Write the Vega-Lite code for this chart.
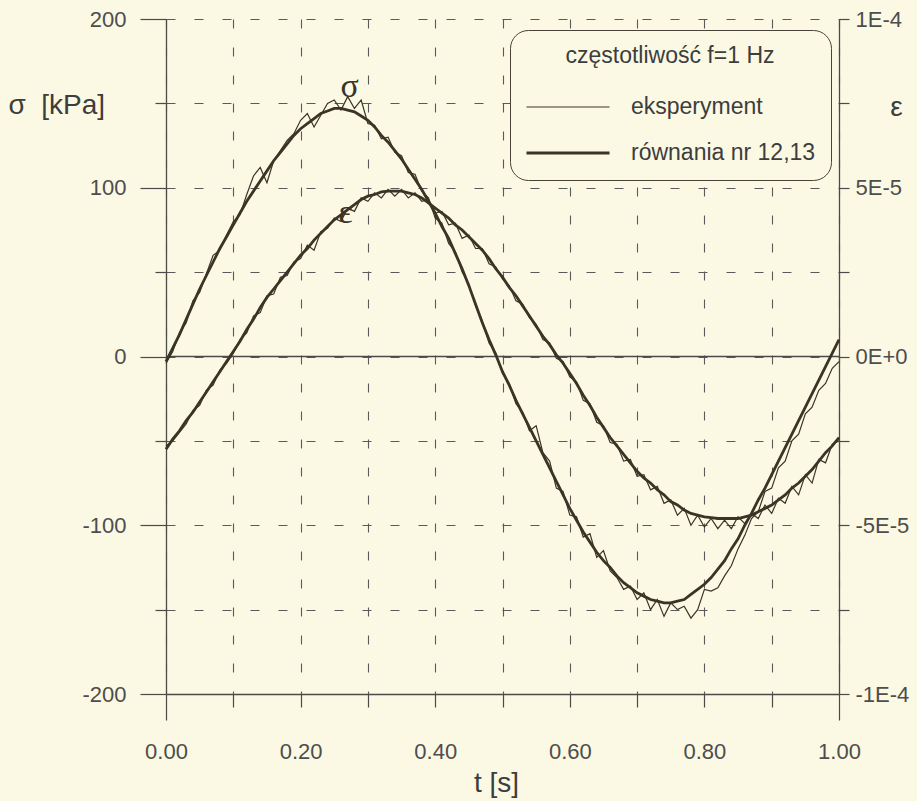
{
  "$schema": "https://vega.github.io/schema/vega-lite/v6.json",
  "width": 673,
  "height": 675,
  "autosize": {"type": "none"},
  "padding": {"left": 166, "top": 19, "right": 78, "bottom": 107},
  "background": "#fbf9e4",
  "config": {
    "view": {"stroke": null},
    "font": "Liberation Sans",
    "axis": {
      "labelFont": "Liberation Sans",
      "labelFontSize": 22,
      "labelColor": "#4d4d4d",
      "labelFlush": false,
      "labelOverlap": false,
      "titleFont": "Liberation Sans",
      "titleFontWeight": "normal",
      "titleColor": "#3d3d3d",
      "titleFontSize": 28,
      "domainColor": "#4a4a4a",
      "domainWidth": 1.3,
      "tickColor": "#4a4a4a",
      "tickWidth": 1.2,
      "gridColor": "#5a5a5a",
      "gridDash": [9, 19],
      "gridWidth": 1.1,
      "gridOpacity": 1
    }
  },
  "datasets": {
    "zero": [{"v": 0}],
    "ann": [
      {"t": 0.273, "v": 160, "label": "σ"},
      {"t": 0.267, "v": 85, "label": "ε"}
    ],
    "sigma": [
      {"t":0.00,"fit":-3,"exp":-4},{"t":0.01,"fit":5,"exp":3},{"t":0.02,"fit":13,"exp":14},{"t":0.03,"fit":22,"exp":20},
      {"t":0.04,"fit":31,"exp":33},{"t":0.05,"fit":40,"exp":38},{"t":0.06,"fit":48,"exp":49},{"t":0.07,"fit":56,"exp":60},
      {"t":0.08,"fit":64,"exp":63},{"t":0.09,"fit":71,"exp":72},{"t":0.10,"fit":78,"exp":80},{"t":0.11,"fit":85,"exp":84},
      {"t":0.12,"fit":92,"exp":96},{"t":0.13,"fit":98,"exp":107},{"t":0.14,"fit":104,"exp":112},{"t":0.15,"fit":110,"exp":103},
      {"t":0.16,"fit":116,"exp":116},{"t":0.17,"fit":121,"exp":122},{"t":0.18,"fit":126,"exp":128},{"t":0.19,"fit":131,"exp":132},
      {"t":0.20,"fit":135,"exp":140},{"t":0.21,"fit":138,"exp":144},{"t":0.22,"fit":141,"exp":136},{"t":0.23,"fit":144,"exp":143},
      {"t":0.24,"fit":145.5,"exp":150},{"t":0.25,"fit":147,"exp":152},{"t":0.26,"fit":147,"exp":146},{"t":0.27,"fit":146,"exp":154},
      {"t":0.28,"fit":145,"exp":147},{"t":0.29,"fit":142.5,"exp":152},{"t":0.30,"fit":140,"exp":138},{"t":0.31,"fit":136,"exp":137},
      {"t":0.32,"fit":131,"exp":129},{"t":0.33,"fit":127,"exp":130},{"t":0.34,"fit":122,"exp":121},{"t":0.35,"fit":117,"exp":119},
      {"t":0.36,"fit":111,"exp":109},{"t":0.37,"fit":105,"exp":108},{"t":0.38,"fit":99,"exp":98},{"t":0.39,"fit":92,"exp":94},
      {"t":0.40,"fit":85,"exp":82},{"t":0.41,"fit":77,"exp":79},{"t":0.42,"fit":70,"exp":67},{"t":0.43,"fit":61,"exp":62},
      {"t":0.44,"fit":52,"exp":50},{"t":0.45,"fit":42,"exp":43},{"t":0.46,"fit":31,"exp":30},{"t":0.47,"fit":20,"exp":21},
      {"t":0.48,"fit":10,"exp":8},{"t":0.49,"fit":1,"exp":2},{"t":0.50,"fit":-9,"exp":-10},{"t":0.51,"fit":-17,"exp":-16},
      {"t":0.52,"fit":-26,"exp":-28},{"t":0.53,"fit":-34,"exp":-33},{"t":0.54,"fit":-42,"exp":-44},{"t":0.55,"fit":-50,"exp":-41},
      {"t":0.56,"fit":-58,"exp":-57},{"t":0.57,"fit":-66,"exp":-62},{"t":0.58,"fit":-74,"exp":-78},{"t":0.59,"fit":-82,"exp":-80},
      {"t":0.60,"fit":-90,"exp":-94},{"t":0.61,"fit":-97,"exp":-95},{"t":0.62,"fit":-104,"exp":-107},{"t":0.63,"fit":-110,"exp":-105},
      {"t":0.64,"fit":-116,"exp":-119},{"t":0.65,"fit":-121,"exp":-115},{"t":0.66,"fit":-125,"exp":-127},{"t":0.67,"fit":-130,"exp":-131},
      {"t":0.68,"fit":-134,"exp":-138},{"t":0.69,"fit":-137,"exp":-136},{"t":0.70,"fit":-140,"exp":-144},{"t":0.71,"fit":-142,"exp":-140},
      {"t":0.72,"fit":-144,"exp":-150},{"t":0.73,"fit":-145,"exp":-144},{"t":0.74,"fit":-146,"exp":-154},{"t":0.75,"fit":-146,"exp":-146},
      {"t":0.76,"fit":-145,"exp":-150},{"t":0.77,"fit":-144,"exp":-148},{"t":0.78,"fit":-141,"exp":-155},{"t":0.79,"fit":-138,"exp":-150},
      {"t":0.80,"fit":-135,"exp":-138},{"t":0.81,"fit":-131,"exp":-139},{"t":0.82,"fit":-126,"exp":-137},{"t":0.83,"fit":-121,"exp":-130},
      {"t":0.84,"fit":-114,"exp":-124},{"t":0.85,"fit":-108,"exp":-114},{"t":0.86,"fit":-100,"exp":-106},{"t":0.87,"fit":-93,"exp":-96},
      {"t":0.88,"fit":-85,"exp":-92},{"t":0.89,"fit":-78,"exp":-80},{"t":0.90,"fit":-70,"exp":-78},{"t":0.91,"fit":-62,"exp":-66},
      {"t":0.92,"fit":-54,"exp":-62},{"t":0.93,"fit":-46,"exp":-50},{"t":0.94,"fit":-38,"exp":-46},{"t":0.95,"fit":-30,"exp":-34},
      {"t":0.96,"fit":-22,"exp":-30},{"t":0.97,"fit":-14,"exp":-20},{"t":0.98,"fit":-6,"exp":-16},{"t":0.99,"fit":2,"exp":-7},
      {"t":1.00,"fit":10,"exp":-3}
    ],
    "eps": [
      {"t":0.00,"fit":-2.75e-5,"exp":-2.65e-5},{"t":0.01,"fit":-2.45e-5,"exp":-2.5e-5},{"t":0.02,"fit":-2.2e-5,"exp":-2.25e-5},{"t":0.03,"fit":-1.9e-5,"exp":-2.0e-5},
      {"t":0.04,"fit":-1.65e-5,"exp":-1.6e-5},{"t":0.05,"fit":-1.35e-5,"exp":-1.45e-5},{"t":0.06,"fit":-1.05e-5,"exp":-1.0e-5},{"t":0.07,"fit":-0.75e-5,"exp":-0.85e-5},
      {"t":0.08,"fit":-0.45e-5,"exp":-0.4e-5},{"t":0.09,"fit":-0.15e-5,"exp":-0.2e-5},{"t":0.10,"fit":0.15e-5,"exp":0.1e-5},{"t":0.11,"fit":0.45e-5,"exp":0.5e-5},
      {"t":0.12,"fit":0.8e-5,"exp":0.7e-5},{"t":0.13,"fit":1.1e-5,"exp":1.2e-5},{"t":0.14,"fit":1.45e-5,"exp":1.3e-5},{"t":0.15,"fit":1.75e-5,"exp":1.8e-5},
      {"t":0.16,"fit":2.0e-5,"exp":1.85e-5},{"t":0.17,"fit":2.25e-5,"exp":2.35e-5},{"t":0.18,"fit":2.5e-5,"exp":2.4e-5},{"t":0.19,"fit":2.75e-5,"exp":2.8e-5},
      {"t":0.20,"fit":3.0e-5,"exp":2.9e-5},{"t":0.21,"fit":3.2e-5,"exp":3.3e-5},{"t":0.22,"fit":3.45e-5,"exp":3.15e-5},{"t":0.23,"fit":3.65e-5,"exp":3.7e-5},
      {"t":0.24,"fit":3.85e-5,"exp":3.8e-5},{"t":0.25,"fit":4.05e-5,"exp":4.1e-5},{"t":0.26,"fit":4.2e-5,"exp":4.0e-5},{"t":0.27,"fit":4.35e-5,"exp":4.4e-5},
      {"t":0.28,"fit":4.5e-5,"exp":4.3e-5},{"t":0.29,"fit":4.65e-5,"exp":4.7e-5},{"t":0.30,"fit":4.75e-5,"exp":4.6e-5},{"t":0.31,"fit":4.8e-5,"exp":4.85e-5},
      {"t":0.32,"fit":4.875e-5,"exp":4.7e-5},{"t":0.33,"fit":4.9e-5,"exp":4.95e-5},{"t":0.34,"fit":4.9e-5,"exp":4.75e-5},{"t":0.35,"fit":4.9e-5,"exp":4.95e-5},
      {"t":0.36,"fit":4.85e-5,"exp":4.7e-5},{"t":0.37,"fit":4.8e-5,"exp":4.85e-5},{"t":0.38,"fit":4.7e-5,"exp":4.6e-5},{"t":0.39,"fit":4.55e-5,"exp":4.65e-5},
      {"t":0.40,"fit":4.4e-5,"exp":4.25e-5},{"t":0.41,"fit":4.25e-5,"exp":4.3e-5},{"t":0.42,"fit":4.1e-5,"exp":3.9e-5},{"t":0.43,"fit":3.9e-5,"exp":3.95e-5},
      {"t":0.44,"fit":3.75e-5,"exp":3.5e-5},{"t":0.45,"fit":3.55e-5,"exp":3.6e-5},{"t":0.46,"fit":3.35e-5,"exp":3.2e-5},{"t":0.47,"fit":3.15e-5,"exp":3.2e-5},
      {"t":0.48,"fit":2.9e-5,"exp":2.75e-5},{"t":0.49,"fit":2.6e-5,"exp":2.65e-5},{"t":0.50,"fit":2.35e-5,"exp":2.3e-5},{"t":0.51,"fit":2.05e-5,"exp":2.1e-5},
      {"t":0.52,"fit":1.8e-5,"exp":1.65e-5},{"t":0.53,"fit":1.5e-5,"exp":1.55e-5},{"t":0.54,"fit":1.2e-5,"exp":1.15e-5},{"t":0.55,"fit":0.9e-5,"exp":0.95e-5},
      {"t":0.56,"fit":0.6e-5,"exp":0.5e-5},{"t":0.57,"fit":0.35e-5,"exp":0.4e-5},{"t":0.58,"fit":0.05e-5,"exp":-0.05e-5},{"t":0.59,"fit":-0.2e-5,"exp":-0.15e-5},
      {"t":0.60,"fit":-0.5e-5,"exp":-0.6e-5},{"t":0.61,"fit":-0.8e-5,"exp":-0.75e-5},{"t":0.62,"fit":-1.15e-5,"exp":-1.3e-5},{"t":0.63,"fit":-1.45e-5,"exp":-1.4e-5},
      {"t":0.64,"fit":-1.8e-5,"exp":-1.95e-5},{"t":0.65,"fit":-2.1e-5,"exp":-2.05e-5},{"t":0.66,"fit":-2.4e-5,"exp":-2.55e-5},{"t":0.67,"fit":-2.65e-5,"exp":-2.6e-5},
      {"t":0.68,"fit":-2.9e-5,"exp":-3.1e-5},{"t":0.69,"fit":-3.15e-5,"exp":-3.05e-5},{"t":0.70,"fit":-3.4e-5,"exp":-3.55e-5},{"t":0.71,"fit":-3.6e-5,"exp":-3.5e-5},
      {"t":0.72,"fit":-3.75e-5,"exp":-3.95e-5},{"t":0.73,"fit":-3.95e-5,"exp":-3.85e-5},{"t":0.74,"fit":-4.1e-5,"exp":-4.35e-5},{"t":0.75,"fit":-4.3e-5,"exp":-4.25e-5},
      {"t":0.76,"fit":-4.4e-5,"exp":-4.7e-5},{"t":0.77,"fit":-4.55e-5,"exp":-4.5e-5},{"t":0.78,"fit":-4.65e-5,"exp":-5.0e-5},{"t":0.79,"fit":-4.7e-5,"exp":-4.7e-5},
      {"t":0.80,"fit":-4.75e-5,"exp":-5.05e-5},{"t":0.81,"fit":-4.775e-5,"exp":-4.8e-5},{"t":0.82,"fit":-4.8e-5,"exp":-5.1e-5},{"t":0.83,"fit":-4.8e-5,"exp":-4.85e-5},
      {"t":0.84,"fit":-4.8e-5,"exp":-5.1e-5},{"t":0.85,"fit":-4.8e-5,"exp":-4.75e-5},{"t":0.86,"fit":-4.75e-5,"exp":-4.95e-5},{"t":0.87,"fit":-4.7e-5,"exp":-4.65e-5},
      {"t":0.88,"fit":-4.6e-5,"exp":-4.8e-5},{"t":0.89,"fit":-4.5e-5,"exp":-4.4e-5},{"t":0.90,"fit":-4.4e-5,"exp":-4.65e-5},{"t":0.91,"fit":-4.25e-5,"exp":-4.2e-5},
      {"t":0.92,"fit":-4.1e-5,"exp":-4.35e-5},{"t":0.93,"fit":-3.9e-5,"exp":-3.85e-5},{"t":0.94,"fit":-3.75e-5,"exp":-4.1e-5},{"t":0.95,"fit":-3.55e-5,"exp":-3.5e-5},
      {"t":0.96,"fit":-3.35e-5,"exp":-3.75e-5},{"t":0.97,"fit":-3.1e-5,"exp":-3.05e-5},{"t":0.98,"fit":-2.85e-5,"exp":-3.15e-5},{"t":0.99,"fit":-2.65e-5,"exp":-2.6e-5},
      {"t":1.00,"fit":-2.4e-5,"exp":-2.5e-5}
    ]
  },
  "layer": [
    {
      "layer": [
        {
          "data": {"name": "zero"},
          "mark": {"type": "rule", "color": "#4a4a4a", "strokeWidth": 1.3},
          "encoding": {
            "y": {
              "field": "v",
              "type": "quantitative",
              "scale": {"domain": [-200, 200], "nice": false, "zero": false},
              "axis": {
                "orient": "left",
                "values": [-200, -150, -100, -50, 0, 50, 100, 150, 200],
                "labelExpr": "datum.value % 100 == 0 ? datum.value : ''",
                "tickSize": {"condition": {"test": "datum.value % 100 == 0", "value": 26}, "value": 11},
                "labelPadding": 14,
                "grid": true,
                "title": "σ\u00a0\u00a0[kPa]",
                "titleAngle": 0,
                "titleAlign": "left",
                "titleBaseline": "middle",
                "titleX": -158,
                "titleY": 86
              }
            }
          }
        },
        {
          "data": {"name": "sigma"},
          "transform": [{"fold": ["exp", "fit"], "as": ["k", "v"]}],
          "mark": {"type": "line", "color": "#3b3326"},
          "encoding": {
            "x": {
              "field": "t",
              "type": "quantitative",
              "scale": {"domain": [0, 1], "nice": false},
              "axis": {
                "values": [0, 0.1, 0.2, 0.3, 0.4, 0.5, 0.6, 0.7, 0.8, 0.9, 1.0],
                "labelExpr": "round(datum.value * 10) % 2 == 0 ? format(datum.value, '.2f') : ''",
                "tickSize": {"condition": {"test": "datum.value < 0.01 || datum.value > 0.99", "value": 26}, "value": 13},
                "labelPadding": {"condition": {"test": "datum.value < 0.01 || datum.value > 0.99", "value": 21}, "value": 34},
                "grid": true,
                "title": "t [s]",
                "titleX": 330,
                "titleY": 89,
                "titleBaseline": "middle",
                "titleAlign": "center"
              }
            },
            "y": {"field": "v", "type": "quantitative"},
            "strokeWidth": {
              "field": "k",
              "type": "nominal",
              "scale": {"domain": ["exp", "fit"], "range": [1.2, 2.8]},
              "legend": {
                "title": "częstotliwość f=1 Hz",
                "labelExpr": "datum.value == 'exp' ? 'eksperyment' : 'równania nr 12,13'",
                "orient": "none",
                "legendX": 344,
                "legendY": 11,
                "strokeColor": "#4a4236",
                "cornerRadius": 18,
                "fillColor": "#fbf9e4",
                "padding": 15,
                "titleFont": "Liberation Sans",
                "titleFontSize": 23,
                "titleFontWeight": "normal",
                "titleColor": "#3d3d3d",
                "titleAnchor": "middle",
                "titlePadding": 27,
                "titleLimit": 600,
                "labelFont": "Liberation Sans",
                "labelFontSize": 23,
                "labelColor": "#3d3d3d",
                "labelOffset": 20,
                "labelLimit": 600,
                "symbolType": "stroke",
                "symbolSize": 6889,
                "symbolStrokeColor": "#3b3326",
                "clipHeight": 24,
                "rowPadding": 22
              }
            }
          }
        },
        {
          "data": {"name": "ann"},
          "mark": {"type": "text", "font": "Liberation Serif", "fontSize": 34, "color": "#3b3326", "baseline": "middle", "align": "center"},
          "encoding": {
            "x": {"field": "t", "type": "quantitative"},
            "y": {"field": "v", "type": "quantitative"},
            "text": {"field": "label"}
          }
        }
      ]
    },
    {
      "data": {"name": "eps"},
      "transform": [{"fold": ["exp", "fit"], "as": ["k", "v"]}],
      "mark": {"type": "line", "color": "#3b3326"},
      "encoding": {
        "x": {"field": "t", "type": "quantitative"},
        "y": {
          "field": "v",
          "type": "quantitative",
          "scale": {"domain": [-0.0001, 0.0001], "nice": false, "zero": false},
          "axis": {
            "orient": "right",
            "values": [-0.0001, -0.000075, -0.00005, -0.000025, 0, 0.000025, 0.00005, 0.000075, 0.0001],
            "labelExpr": "abs(datum.value) < 1e-9 ? '0E+0' : abs(datum.value - 0.0001) < 1e-9 ? '1E-4' : abs(datum.value - 0.00005) < 1e-9 ? '5E-5' : abs(datum.value + 0.00005) < 1e-9 ? '-5E-5' : abs(datum.value + 0.0001) < 1e-9 ? '-1E-4' : ''",
            "tickSize": 10,
            "labelPadding": 6,
            "grid": false,
            "title": "ε",
            "titleFontSize": 28,
            "titleAngle": 0,
            "titleAlign": "center",
            "titleBaseline": "middle",
            "titleX": 57,
            "titleY": 88
          }
        },
        "strokeWidth": {"field": "k", "type": "nominal"}
      }
    }
  ],
  "resolve": {"scale": {"y": "independent"}, "axis": {"y": "independent"}}
}
